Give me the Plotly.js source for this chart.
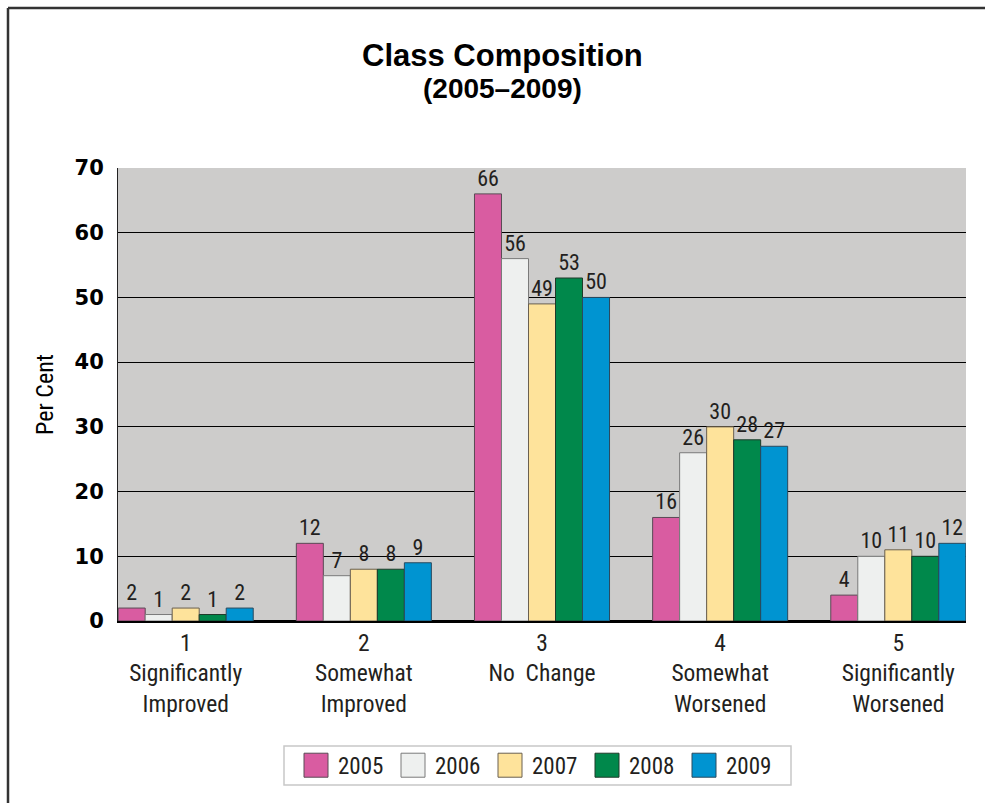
<!DOCTYPE html>
<html>
<head>
<meta charset="utf-8">
<script src="https://cdn.plot.ly/plotly-3.0.1.min.js"></script>
<style>
html,body{margin:0;padding:0;background:#fff;}
#chart{width:985px;height:803px;}
</style>
</head>
<body>
<div id="chart"></div>
<script>
const categories = [
  "1<br>Significantly<br>Improved",
  "2<br>Somewhat<br>Improved",
  "3<br>No  Change",
  "4<br>Somewhat<br>Worsened",
  "5<br>Significantly<br>Worsened"
];
const years = ["2005", "2006", "2007", "2008", "2009"];
const values2005 = [2, 12, 66, 16, 4];
const values2006 = [1, 7, 56, 26, 10];
const values2007 = [2, 8, 49, 30, 11];
const values2008 = [1, 8, 53, 28, 10];
const values2009 = [2, 9, 50, 27, 12];
const yTicks = [0, 10, 20, 30, 40, 50, 60, 70];
const titleText = "Class Composition";
const subtitleText = "(2005–2009)";
const yTitle = "Per Cent";

const seriesValues = [values2005, values2006, values2007, values2008, values2009];
const fillColors = ["#d95ca1", "#eef0ef", "#fee39b", "#00884b", "#0094d1"];
const lineColors = ["#5a4a55", "#7a7a7a", "#6a6050", "#1f3a2a", "#2a4a5e"];

const narrow = "Roboto Condensed, Liberation Sans Narrow, Arial Narrow, sans-serif";
const boldSans = "Liberation Sans, Arial, sans-serif";

const traces = seriesValues.map((vals, i) => ({
  type: "bar",
  name: years[i],
  x: categories,
  y: vals,
  text: vals.map(String),
  textposition: "outside",
  cliponaxis: false,
  textfont: {family: narrow, size: 22, color: "#231f20"},
  marker: {color: fillColors[i], line: {color: lineColors[i], width: 1}},
  hoverinfo: "x+y+name"
}));

// plot area: x 118..966, y 168..621 (px)
const plotLeft = 118, plotW = 848, plotTop = 168, plotH = 453;
const px = p => (p - plotLeft) / plotW;
const py = p => (plotTop + plotH - p) / plotH;

const layout = {
  width: 985,
  height: 803,
  paper_bgcolor: "#ffffff",
  plot_bgcolor: "#cdcccb",
  margin: {l: 118, r: 19, t: 168, b: 182},
  barmode: "group",
  bargap: 0.242,
  bargroupgap: 0,
  showlegend: true,
  annotations: [
    {text: "<b>" + titleText + "</b>", xref: "paper", yref: "paper", x: px(502), y: py(55),
     xanchor: "center", yanchor: "middle", showarrow: false,
     font: {family: boldSans, size: 31, color: "#000"}},
    {text: "<b>" + subtitleText + "</b>", xref: "paper", yref: "paper", x: px(502), y: py(88),
     xanchor: "center", yanchor: "middle", showarrow: false,
     font: {family: boldSans, size: 28, color: "#000"}}
  ],
  xaxis: {
    type: "category",
    range: [-0.38, 4.38],
    showgrid: false,
    zeroline: false,
    showline: true,
    linecolor: "#000",
    linewidth: 1.5,
    ticks: "",
    tickfont: {family: narrow, size: 23.5, color: "#231f20"},
    fixedrange: true
  },
  yaxis: {
    range: [0, 70],
    tickvals: yTicks,
    ticktext: yTicks.map(String),
    showgrid: true,
    gridcolor: "#000",
    gridwidth: 1,
    zeroline: true,
    zerolinecolor: "#000",
    zerolinewidth: 1.5,
    showline: true,
    linecolor: "#222",
    linewidth: 1,
    ticks: "",
    ticklabelstandoff: 9,
    tickfont: {family: "DejaVu Sans, sans-serif", size: 21, color: "#000", weight: "bold"},
    title: {text: yTitle, font: {family: narrow, size: 24, color: "#000"}, standoff: 14},
    fixedrange: true
  },
  legend: {
    orientation: "h",
    x: px(294), xanchor: "left",
    y: -0.271, yanchor: "top",
    borderwidth: 0,
    bgcolor: "rgba(0,0,0,0)",
    font: {family: narrow, size: 23, color: "#231f20"},
    itemwidth: 34,
    entrywidth: 48,
    entrywidthmode: "pixels",
    traceorder: "normal"
  },
  shapes: [
    {type: "line", xref: "paper", yref: "paper", x0: px(8), x1: px(985), y0: py(8), y1: py(8), line: {color: "#333", width: 2.5}},
    {type: "line", xref: "paper", yref: "paper", x0: px(8), x1: px(8), y0: py(8), y1: py(803), line: {color: "#333", width: 2.5}},
    {type: "rect", xref: "paper", yref: "paper", x0: px(284), x1: px(791), y0: py(746), y1: py(785),
     fillcolor: "#ffffff", line: {color: "#c8c8c8", width: 1.5}}
  ]
};

Plotly.newPlot("chart", traces, layout, {displayModeBar: false, staticPlot: true}).then(gd => {
  gd.querySelectorAll(".legend .legendpoints path").forEach(p => {
    p.setAttribute("d", "M12,12H-12V-12H12Z");
  });
});
</script>
</body>
</html>
